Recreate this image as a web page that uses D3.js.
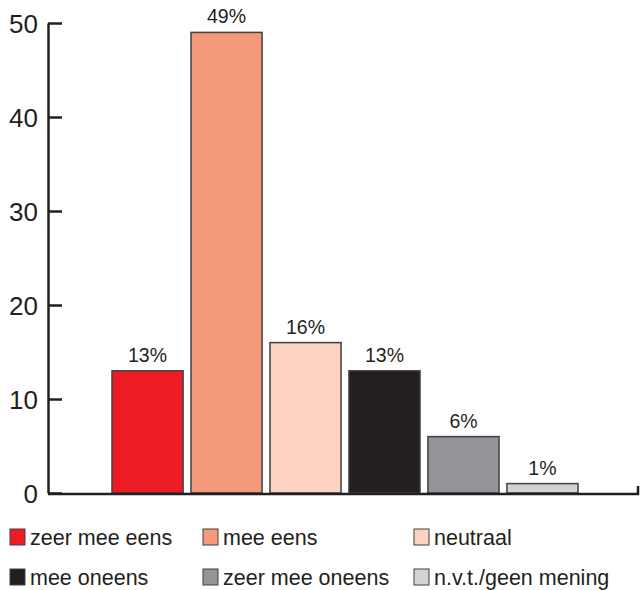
<!DOCTYPE html>
<html lang="nl">
<head>
<meta charset="utf-8">
<title>Chart</title>
<script src="https://cdn.jsdelivr.net/npm/d3@7"></script>
<style>
  body { margin: 0; background: #fff; }
  svg text { font-family: "Liberation Sans", Arial, sans-serif; fill: #231f20; }
</style>
</head>
<body>
<svg width="641" height="590"></svg>
<script>
// data
var categories = ['zeer mee eens', 'mee eens', 'neutraal', 'mee oneens', 'zeer mee oneens', 'n.v.t./geen mening'];
var values = [13, 49, 16, 13, 6, 1];
var colors = ['#ed1c24', '#f4997a', '#fcd2c1', '#231f20', '#939598', '#d1d3d4'];
var yTicks = [0, 10, 20, 30, 40, 50];

var svg = d3.select('svg');
var ink = '#231f20';

var y = d3.scaleLinear().domain([0, 50]).range([493, 23]);
var x = d3.scaleBand().domain(categories).range([112, 578]).paddingInner(0.1).paddingOuter(0);

// y axis, ticks point inward
var yAxis = d3.axisLeft(y).tickValues(yTicks).tickSizeInner(-14).tickSizeOuter(0).tickPadding(10);
var gy = svg.append('g').attr('transform', 'translate(48,0)').call(yAxis);
gy.select('.domain').attr('stroke', ink).attr('stroke-width', 2.5);
gy.selectAll('.tick line').attr('stroke', ink).attr('stroke-width', 2.5);
gy.selectAll('.tick text').attr('font-size', 26).attr('fill', ink)
  .attr('font-family', '"Liberation Sans", Arial, sans-serif')
  .attr('dy', '0.36em');

// bars
svg.selectAll('rect.bar')
  .data(values)
  .enter()
  .append('rect')
  .attr('class', 'bar')
  .attr('x', (d, i) => x(categories[i]))
  .attr('width', x.bandwidth())
  .attr('y', d => y(d))
  .attr('height', d => y(0) - y(d))
  .attr('fill', (d, i) => colors[i])
  .attr('stroke', '#414042')
  .attr('stroke-width', 1.5);

svg.selectAll('text.lbl')
  .data(values)
  .enter()
  .append('text')
  .attr('class', 'lbl')
  .attr('x', (d, i) => x(categories[i]) + x.bandwidth() / 2)
  .attr('y', d => y(d) - 9)
  .attr('text-anchor', 'middle')
  .attr('font-size', 19.5)
  .text(d => d + '%');

// baseline with small end tick
svg.append('path')
  .attr('d', 'M48,494H638V486')
  .attr('fill', 'none')
  .attr('stroke', ink)
  .attr('stroke-width', 2.5);

// legend
var legX = [10, 203, 414];
var legY = [529, 569];
var leg = svg.selectAll('g.leg')
  .data(categories)
  .enter()
  .append('g')
  .attr('class', 'leg')
  .attr('transform', (d, i) => 'translate(' + legX[i % 3] + ',' + legY[Math.floor(i / 3)] + ')');
leg.append('rect')
  .attr('width', 15).attr('height', 16)
  .attr('fill', (d, i) => colors[i])
  .attr('stroke', '#414042').attr('stroke-width', 1);
leg.append('text')
  .attr('x', 20).attr('y', 15.5)
  .attr('font-size', 21.5)
  .text(d => d);
</script>
</body>
</html>
